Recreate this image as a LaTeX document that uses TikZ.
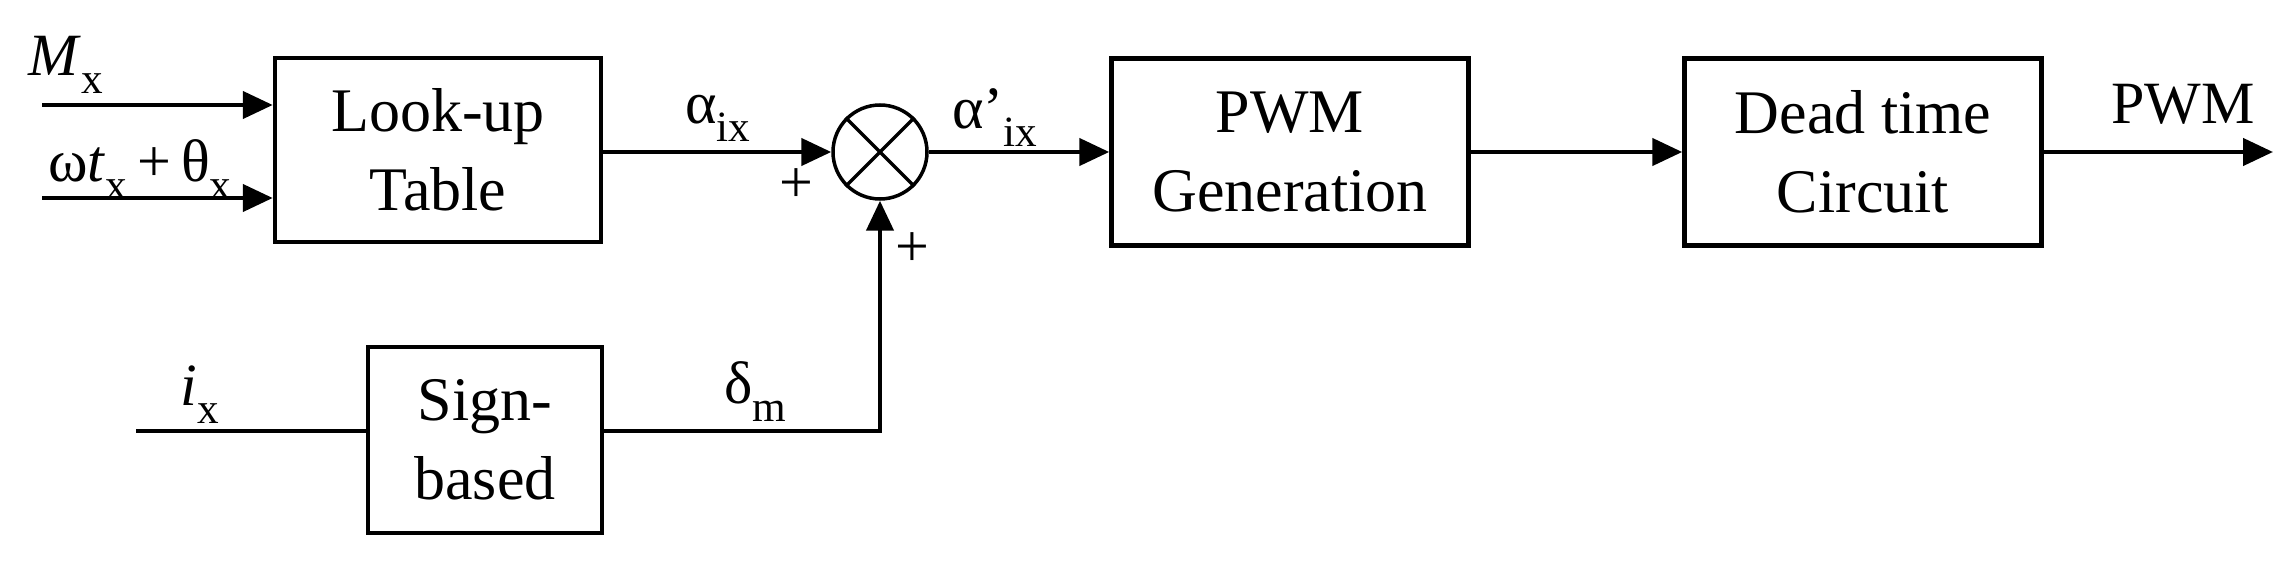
\documentclass[tikz,border=0pt]{standalone}
\usepackage{fontspec}
\setmainfont{Liberation Serif}
\usetikzlibrary{arrows.meta}
\newcommand\mysub[1]{\raisebox{-0.3em}{\scalebox{0.72}{#1}}}
\begin{document}
\begin{tikzpicture}[x=1pt,y=-1pt,
  blk/.style={draw,line width=4.5pt,inner sep=0pt,align=center,font=\fontsize{62}{79}\selectfont},
  lbl/.style={font=\fontsize{60}{70}\selectfont,inner sep=0pt},
  conn/.style={line width=4.5pt},
  arr/.style={conn,-{Triangle[length=30pt,width=27pt]}}]
\useasboundingbox (0,0) rectangle (2289,561);
\node[blk,minimum width=326pt,minimum height=184pt] (lut) at (438,150) {Look-up\\Table};
\node[blk,minimum width=357pt,minimum height=187pt] (pwm) at (1290,152) {PWM\\Generation};
\node[blk,minimum width=357pt,minimum height=187pt] (dt) at (1863,152) {Dead time\\Circuit};
\node[blk,minimum width=234pt,minimum height=186pt] (sb) at (485,440) {Sign-\\based};
\node[draw,circle,line width=3.5pt,minimum size=94pt,inner sep=0pt] (sum) at (880,152) {};
\draw[line width=3.5pt] (sum.north west)--(sum.south east) (sum.north east)--(sum.south west);
\coordinate (m0) at (42,105);
\coordinate (w0) at (42,198);
\coordinate (i0) at (136,431);
\coordinate (out) at (2273,152);
\coordinate (corner) at (880,431);
\draw[arr] (m0) -- (lut.west |- m0);
\draw[arr] (w0) -- (lut.west |- w0);
\draw[arr] (lut.east |- sum) -- (sum.west);
\draw[arr] (sum.east) -- (pwm.west |- sum);
\draw[arr] (pwm.east) -- (dt.west);
\draw[arr] (dt.east) -- (out);
\draw[conn] (i0) -- (sb.west |- i0);
\draw[arr] (sb.east |- corner) -- (corner) -- (sum.south);
\node[lbl] (lm) at (66,65) {\textit{M}\mysub{x}};
\node[lbl] (lw) at (140,170) {ω\textit{t}\mysub{x}\,+\,θ\mysub{x}};
\node[lbl] (la) at (718,118) {α\mysub{ix}};
\node[lbl] (lap) at (995,118) {α'\mysub{ix}};
\node[lbl] (lpwm) at (2183,104) {PWM};
\node[lbl] (li) at (200,395) {\textit{i}\mysub{x}};
\node[lbl] (ld) at (755,392) {δ\mysub{m}};
\node[lbl] (p1) at (796,186) {+};
\node[lbl] (p2) at (912,250) {+};
\end{tikzpicture}
\end{document}
